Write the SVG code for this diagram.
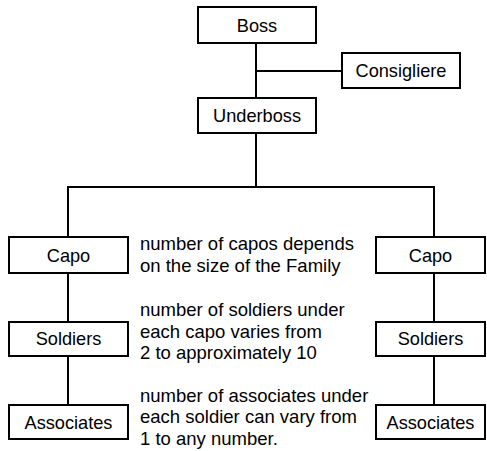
<svg xmlns="http://www.w3.org/2000/svg" width="487" height="451" viewBox="0 0 487 451">
<style>
rect{fill:#fff;stroke:#000;stroke-width:2}
.c line{stroke:#000;stroke-width:2}
text{font-family:"Liberation Sans",Arial,sans-serif;font-size:18.2px;fill:#000}
.n{font-size:18.5px}
.l{text-anchor:middle}
</style>
<rect x="0" y="0" width="487" height="451" style="stroke:none"/>
<g class="c" id="connectors">
<line x1="256" y1="43" x2="256" y2="98"/>
<line x1="256" y1="71" x2="342" y2="71"/>
<line x1="256" y1="133" x2="256" y2="187"/>
<line x1="67" y1="187" x2="435" y2="187"/>
<line x1="68" y1="186" x2="68" y2="237"/>
<line x1="434" y1="186" x2="434" y2="237"/>
<line x1="68" y1="273" x2="68" y2="322"/>
<line x1="68" y1="356" x2="68" y2="405"/>
<line x1="434" y1="273" x2="434" y2="322"/>
<line x1="434" y1="356" x2="434" y2="405"/>
</g>
<g id="boss"><rect x="198" y="7" width="118" height="36"/><text class="l" x="257" y="31.5">Boss</text></g>
<g id="consigliere"><rect x="342" y="53" width="118" height="35"/><text class="l" x="401" y="77">Consigliere</text></g>
<g id="underboss"><rect x="198" y="98" width="118" height="35"/><text class="l" x="257" y="122">Underboss</text></g>
<g id="capo-left"><rect x="9" y="237" width="119" height="36"/><text class="l" x="68.5" y="261.5">Capo</text></g>
<g id="soldiers-left"><rect x="9" y="322" width="119" height="34"/><text class="l" x="68.5" y="345">Soldiers</text></g>
<g id="associates-left"><rect x="9" y="405" width="119" height="34"/><text class="l" x="68.5" y="428.5">Associates</text></g>
<g id="capo-right"><rect x="376" y="237" width="109" height="36"/><text class="l" x="430.5" y="261.5">Capo</text></g>
<g id="soldiers-right"><rect x="376" y="322" width="109" height="34"/><text class="l" x="430.5" y="345">Soldiers</text></g>
<g id="associates-right"><rect x="376" y="405" width="109" height="34"/><text class="l" x="430.5" y="428.5">Associates</text></g>
<g id="note-capos" class="n"><text class="n" x="140" y="250">number of capos depends</text><text class="n" x="140" y="272">on the size of the Family</text></g>
<g id="note-soldiers"><text class="n" x="140" y="316">number of soldiers under</text><text class="n" x="140" y="337.5">each capo varies from</text><text class="n" x="140" y="359">2 to approximately 10</text></g>
<g id="note-associates"><text class="n" x="140" y="401.5">number of associates under</text><text class="n" x="140" y="423">each soldier can vary from</text><text class="n" x="140" y="444.5">1 to any number.</text></g>
</svg>
